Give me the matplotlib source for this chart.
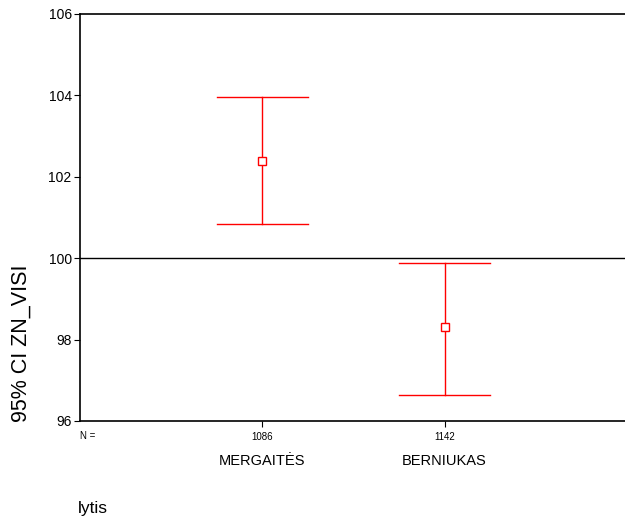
import matplotlib
matplotlib.use("Agg")
import matplotlib.pyplot as plt

plt.rcParams['font.family'] = ['Liberation Sans', 'DejaVu Sans']

# Data
categories = ["MERGAITĖS", "BERNIUKAS"]
counts = [1086, 1142]
means = [102.39, 98.32]
ci_low = [100.85, 96.64]
ci_high = [103.96, 99.88]
y_ticks = [96, 98, 100, 102, 104, 106]

fig = plt.figure(figsize=(6.25, 5.17), dpi=100)
ax = fig.add_axes([0.128, 0.1857, 0.875, 0.7873])

xs = [1, 2]
cap = 0.25
for x, m, lo, hi in zip(xs, means, ci_low, ci_high):
  ax.plot([x, x], [lo, hi], color='red', lw=1)
  ax.plot([x - cap, x + cap], [lo, lo], color='red', lw=1)
  ax.plot([x - cap, x + cap], [hi, hi], color='red', lw=1)
  ax.plot([x], [m], marker='s', ms=6, mfc='white', mec='red', mew=1, color='red', zorder=3)

# reference line at 100
ax.axhline(100, color='black', lw=1)

ax.set_xlim(0, 3)
ax.set_ylim(96, 106)
ax.set_yticks(y_ticks)
ax.set_yticklabels([str(v) for v in y_ticks], fontsize=10)
ax.set_xticks(xs)
ax.set_xticklabels([str(c) for c in counts], fontsize=7)
ax.tick_params(axis='x', length=4, pad=4)
ax.tick_params(axis='y', length=4, pad=2)
ax.spines['right'].set_visible(False)
for s in ['left', 'top', 'bottom']:
  ax.spines[s].set_linewidth(1.2)

fig.text(80 / 625, 1 - 436 / 517, "N =", fontsize=7, ha='left', va='center')
for x, c in zip(xs, categories):
  xf = ax.transData.transform((x, 96))[0] / fig.bbox.width
  fig.text(xf, 1 - 461 / 517, c, fontsize=10.5, ha='center', va='center')

fig.text(21 / 625, 1 - 343 / 517, "95% CI ZN_VISI", fontsize=15.5, rotation=90, ha='center', va='center')
fig.text(78 / 625, 1 - 508 / 517, "lytis", fontsize=12.5, ha='left', va='center')

fig.savefig("out.png", dpi=100)
